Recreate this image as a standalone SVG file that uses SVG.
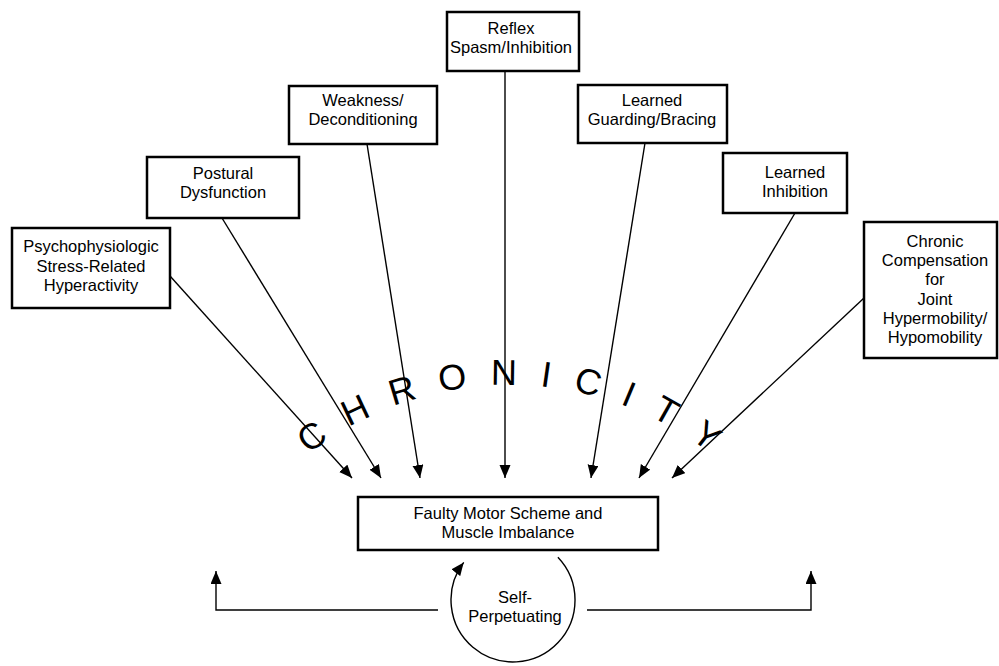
<svg xmlns="http://www.w3.org/2000/svg" width="999" height="666" viewBox="0 0 999 666">
  <style>
    .box rect { fill: #fff; stroke: #000; stroke-width: 2.5; }
    .box text, .loop text { font-family: "Liberation Sans", Arial, sans-serif; font-size: 16.5px; fill: #000; text-anchor: middle; }
    .conn { fill: none; stroke: #000; stroke-width: 1.4; }
    .arc-label { font-family: "Liberation Sans", Arial, sans-serif; font-size: 36px; fill: #000; letter-spacing: 23px; }
  </style>
  <defs>
    <marker id="head" markerUnits="userSpaceOnUse" markerWidth="14" markerHeight="12" refX="13" refY="5.5" orient="auto">
      <path d="M0,0 L13,5.5 L0,11 z" fill="#000"/>
    </marker>
    <path id="chronArc" d="M227.7,548 A326,326 0 0 1 792.3,548"/>
  </defs>

  <rect width="999" height="666" fill="#fff"/>

  <!-- curved word over the converging arrows -->
  <text class="arc-label"><textPath href="#chronArc" startOffset="124">CHRONICITY</textPath></text>

  <!-- connectors -->
  <g id="connectors">
    <line class="conn" x1="170" y1="276" x2="352" y2="478" marker-end="url(#head)"/>
    <line class="conn" x1="222" y1="218" x2="381" y2="478" marker-end="url(#head)"/>
    <line class="conn" x1="367" y1="144" x2="420" y2="478" marker-end="url(#head)"/>
    <line class="conn" x1="505" y1="71" x2="505" y2="478" marker-end="url(#head)"/>
    <line class="conn" x1="645" y1="143" x2="591" y2="478" marker-end="url(#head)"/>
    <line class="conn" x1="795" y1="213" x2="639" y2="478" marker-end="url(#head)"/>
    <line class="conn" x1="864" y1="298" x2="672" y2="478" marker-end="url(#head)"/>
    <path class="conn" d="M438,610 H216 V571" marker-end="url(#head)"/>
    <path class="conn" d="M587,610 H811 V571" marker-end="url(#head)"/>
  </g>

  <!-- source nodes -->
  <g id="psychophysiologic" class="box">
    <rect x="12" y="228" width="158" height="80"/>
    <text x="91" y="252">Psychophysiologic</text>
    <text x="91" y="272">Stress-Related</text>
    <text x="91" y="291">Hyperactivity</text>
  </g>
  <g id="postural" class="box">
    <rect x="147" y="157" width="152" height="61"/>
    <text x="223" y="179">Postural</text>
    <text x="223" y="198">Dysfunction</text>
  </g>
  <g id="weakness" class="box">
    <rect x="289" y="86" width="148" height="58"/>
    <text x="363" y="106">Weakness/</text>
    <text x="363" y="125">Deconditioning</text>
  </g>
  <g id="reflex" class="box">
    <rect x="447" y="12" width="132" height="59"/>
    <text x="511" y="34">Reflex</text>
    <text x="511" y="53">Spasm/Inhibition</text>
  </g>
  <g id="guarding" class="box">
    <rect x="578" y="85" width="149" height="58"/>
    <text x="652" y="106">Learned</text>
    <text x="652" y="125">Guarding/Bracing</text>
  </g>
  <g id="inhibition" class="box">
    <rect x="723" y="153" width="124" height="60"/>
    <text x="795" y="178">Learned</text>
    <text x="795" y="197">Inhibition</text>
  </g>
  <g id="compensation" class="box">
    <rect x="864" y="222" width="133" height="136"/>
    <text x="935" y="247">Chronic</text>
    <text x="935" y="266">Compensation</text>
    <text x="935" y="285">for</text>
    <text x="935" y="305">Joint</text>
    <text x="935" y="324">Hypermobility/</text>
    <text x="935" y="343">Hypomobility</text>
  </g>

  <!-- central node -->
  <g id="faulty-motor" class="box">
    <rect x="358" y="497" width="300" height="53"/>
    <text x="508" y="519">Faulty Motor Scheme and</text>
    <text x="508" y="538">Muscle Imbalance</text>
  </g>

  <!-- self-perpetuating loop -->
  <g id="self-perpetuating" class="loop">
    <path class="conn" d="M557.9,557.2 A62,62 0 1 1 463.7,562.4" marker-end="url(#head)"/>
    <text x="515" y="603">Self-</text>
    <text x="515" y="622">Perpetuating</text>
  </g>
</svg>
